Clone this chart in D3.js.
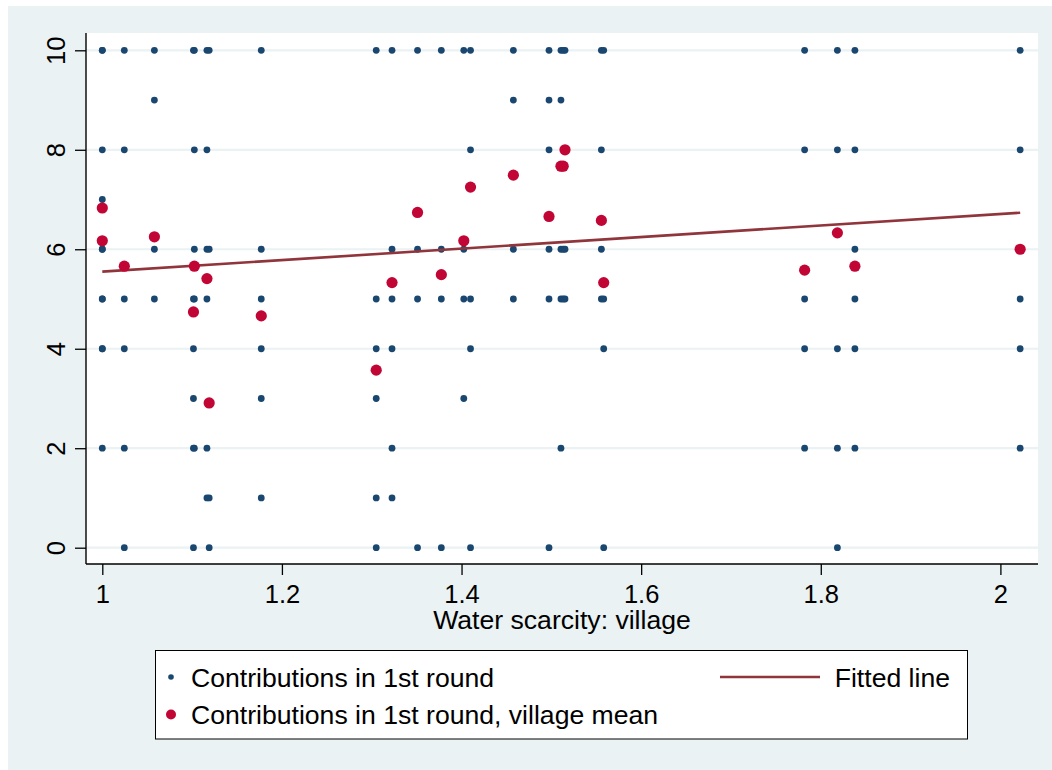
<!DOCTYPE html>
<html>
<head>
<meta charset="utf-8">
<script src="https://cdn.jsdelivr.net/npm/d3@7"></script>
<style>
  html, body { margin: 0; padding: 0; background: #ffffff; }
  svg { display: block; }
  text { font-family: "Liberation Sans", Arial, Helvetica, sans-serif; fill: #000; }
</style>
</head>
<body>
<svg id="chart" width="1052" height="770"></svg>
<script>
// ---- data ----
const villageX = [1.000, 1.000, 1.0245, 1.058, 1.1015, 1.1025, 1.1165, 1.119, 1.177,
                  1.305, 1.3226, 1.351, 1.3775, 1.4025, 1.410, 1.4577, 1.4974, 1.5107,
                  1.5132, 1.5152, 1.5557, 1.5583, 1.782, 1.8185, 1.838, 2.022];
const villageMean = [6.83, 6.17, 5.66, 6.25, 4.74, 5.66, 5.41, 2.91, 4.66,
                     3.57, 5.33, 6.74, 5.49, 6.17, 7.25, 7.49, 6.66, 7.67,
                     7.67, 8.00, 6.58, 5.33, 5.58, 6.33, 5.66, 6.00];
const contributions = [
  [10, 8, 7, 6, 5, 4], [10, 6, 5, 4, 2], [10, 8, 5, 4, 2, 0], [10, 9, 6, 5],
  [10, 5, 4, 3, 2, 0], [10, 8, 6, 5, 2], [10, 8, 6, 5, 2, 1], [10, 6, 1, 0],
  [10, 6, 5, 4, 3, 1], [10, 5, 4, 3, 1, 0], [10, 6, 5, 4, 2, 1], [10, 6, 5, 0],
  [10, 6, 5, 0], [10, 6, 5, 3], [10, 8, 5, 4, 0], [10, 9, 6, 5],
  [10, 9, 8, 6, 5, 0], [10, 9, 6, 5, 2], [10, 6, 5], [10, 8, 6, 5],
  [10, 8, 6, 5], [10, 5, 4, 0], [10, 8, 5, 4, 2], [10, 8, 4, 2, 0],
  [10, 8, 6, 5, 4, 2], [10, 8, 5, 4, 2]
];
const fitX = [1.000, 2.022];
const fitY = [5.55, 6.735];
const xTicks = [1, 1.2, 1.4, 1.6, 1.8, 2];
const xTickLabels = ["1", "1.2", "1.4", "1.6", "1.8", "2"];
const yTicks = [0, 2, 4, 6, 8, 10];
const yTickLabels = ["0", "2", "4", "6", "8", "10"];
const xTitle = "Water scarcity: village";
const legendLabels = ["Contributions in 1st round", "Contributions in 1st round, village mean", "Fitted line"];

// ---- colours ----
const bgColor = "#eaf2f3", gridColor = "#eaf2f3";
const blue = "#1a476f", red = "#c10534", maroon = "#90353b";

// ---- layout ----
const plotL = 86, plotR = 1038, plotT = 33, plotB = 564;
const tickFont = 25.5, labelFont = 26.6;
const svg = d3.select("#chart");

svg.append("rect").attr("x", 8).attr("y", 6).attr("width", 1044).attr("height", 764).attr("fill", bgColor);
svg.append("rect").attr("x", plotL).attr("y", plotT).attr("width", plotR - plotL).attr("height", plotB - plotT).attr("fill", "#ffffff");

const x = d3.scaleLinear().domain([1, 2]).range([102.3, 1000.4]);
const y = d3.scaleLinear().domain([0, 10]).range([547.7, 50.3]);

// gridlines
svg.append("g").selectAll("line").data(yTicks).join("line")
  .attr("x1", plotL).attr("x2", plotR)
  .attr("y1", d => y(d)).attr("y2", d => y(d))
  .attr("stroke", gridColor).attr("stroke-width", 2.2);

// blue points
const pts = [];
villageX.forEach((vx, i) => contributions[i].forEach(v => pts.push({x: vx, y: v})));
svg.append("g").selectAll("circle").data(pts).join("circle")
  .attr("cx", d => x(d.x)).attr("cy", d => y(d.y)).attr("r", 3.4).attr("fill", blue);

// fitted line
svg.append("path")
  .datum(fitX.map((d, i) => [d, fitY[i]]))
  .attr("d", d3.line().x(d => x(d[0])).y(d => y(d[1])))
  .attr("fill", "none").attr("stroke", maroon).attr("stroke-width", 2.6);

// red means
svg.append("g").selectAll("circle").data(villageX.map((d, i) => ({x: d, y: villageMean[i]}))).join("circle")
  .attr("cx", d => x(d.x)).attr("cy", d => y(d.y)).attr("r", 5.6).attr("fill", red);

// axes
const xAxis = d3.axisBottom(x).tickValues(xTicks).tickSize(11).tickSizeOuter(0)
  .tickFormat((d, i) => xTickLabels[i]);
const gx = svg.append("g").attr("transform", `translate(0,${plotB})`).call(xAxis);
gx.select(".domain").remove();
gx.selectAll("line").attr("stroke", "#000").attr("stroke-width", 1.3);
gx.selectAll("text").attr("y", 39).attr("dy", 0).attr("font-size", tickFont)
  .attr("font-family", "Liberation Sans, Arial, sans-serif").attr("fill", "#000");

const yAxis = d3.axisLeft(y).tickValues(yTicks).tickSize(11).tickSizeOuter(0)
  .tickFormat((d, i) => yTickLabels[i]);
const gy = svg.append("g").attr("transform", `translate(${plotL},0)`).call(yAxis);
gy.select(".domain").remove();
gy.selectAll("line").attr("stroke", "#000").attr("stroke-width", 1.3);
gy.selectAll("text").attr("transform", "rotate(-90)").attr("x", 0).attr("y", -21).attr("dy", 0)
  .attr("text-anchor", "middle").attr("font-size", tickFont)
  .attr("font-family", "Liberation Sans, Arial, sans-serif").attr("fill", "#000");

// axis lines
svg.append("line").attr("x1", plotL).attr("x2", plotL).attr("y1", plotT).attr("y2", plotB)
  .attr("stroke", "#000").attr("stroke-width", 1.4);
svg.append("line").attr("x1", plotL).attr("x2", plotR).attr("y1", plotB).attr("y2", plotB)
  .attr("stroke", "#000").attr("stroke-width", 1.4);

// x title
svg.append("text").attr("x", (plotL + plotR) / 2).attr("y", 629).attr("text-anchor", "middle")
  .attr("font-size", labelFont).text(xTitle);

// legend
const lg = svg.append("g");
lg.append("rect").attr("x", 155.5).attr("y", 650.5).attr("width", 812).attr("height", 88.5)
  .attr("fill", "#fff").attr("stroke", "#000").attr("stroke-width", 1);
lg.append("circle").attr("cx", 171).attr("cy", 677).attr("r", 2.8).attr("fill", blue);
lg.append("text").attr("x", 191).attr("y", 687).attr("font-size", labelFont).text(legendLabels[0]);
lg.append("circle").attr("cx", 171).attr("cy", 714.5).attr("r", 5).attr("fill", red);
lg.append("text").attr("x", 191).attr("y", 724).attr("font-size", labelFont).text(legendLabels[1]);
lg.append("line").attr("x1", 720).attr("x2", 820).attr("y1", 677).attr("y2", 677)
  .attr("stroke", maroon).attr("stroke-width", 2.6);
lg.append("text").attr("x", 950).attr("y", 687).attr("text-anchor", "end").attr("font-size", labelFont).text(legendLabels[2]);
</script>
</body>
</html>
